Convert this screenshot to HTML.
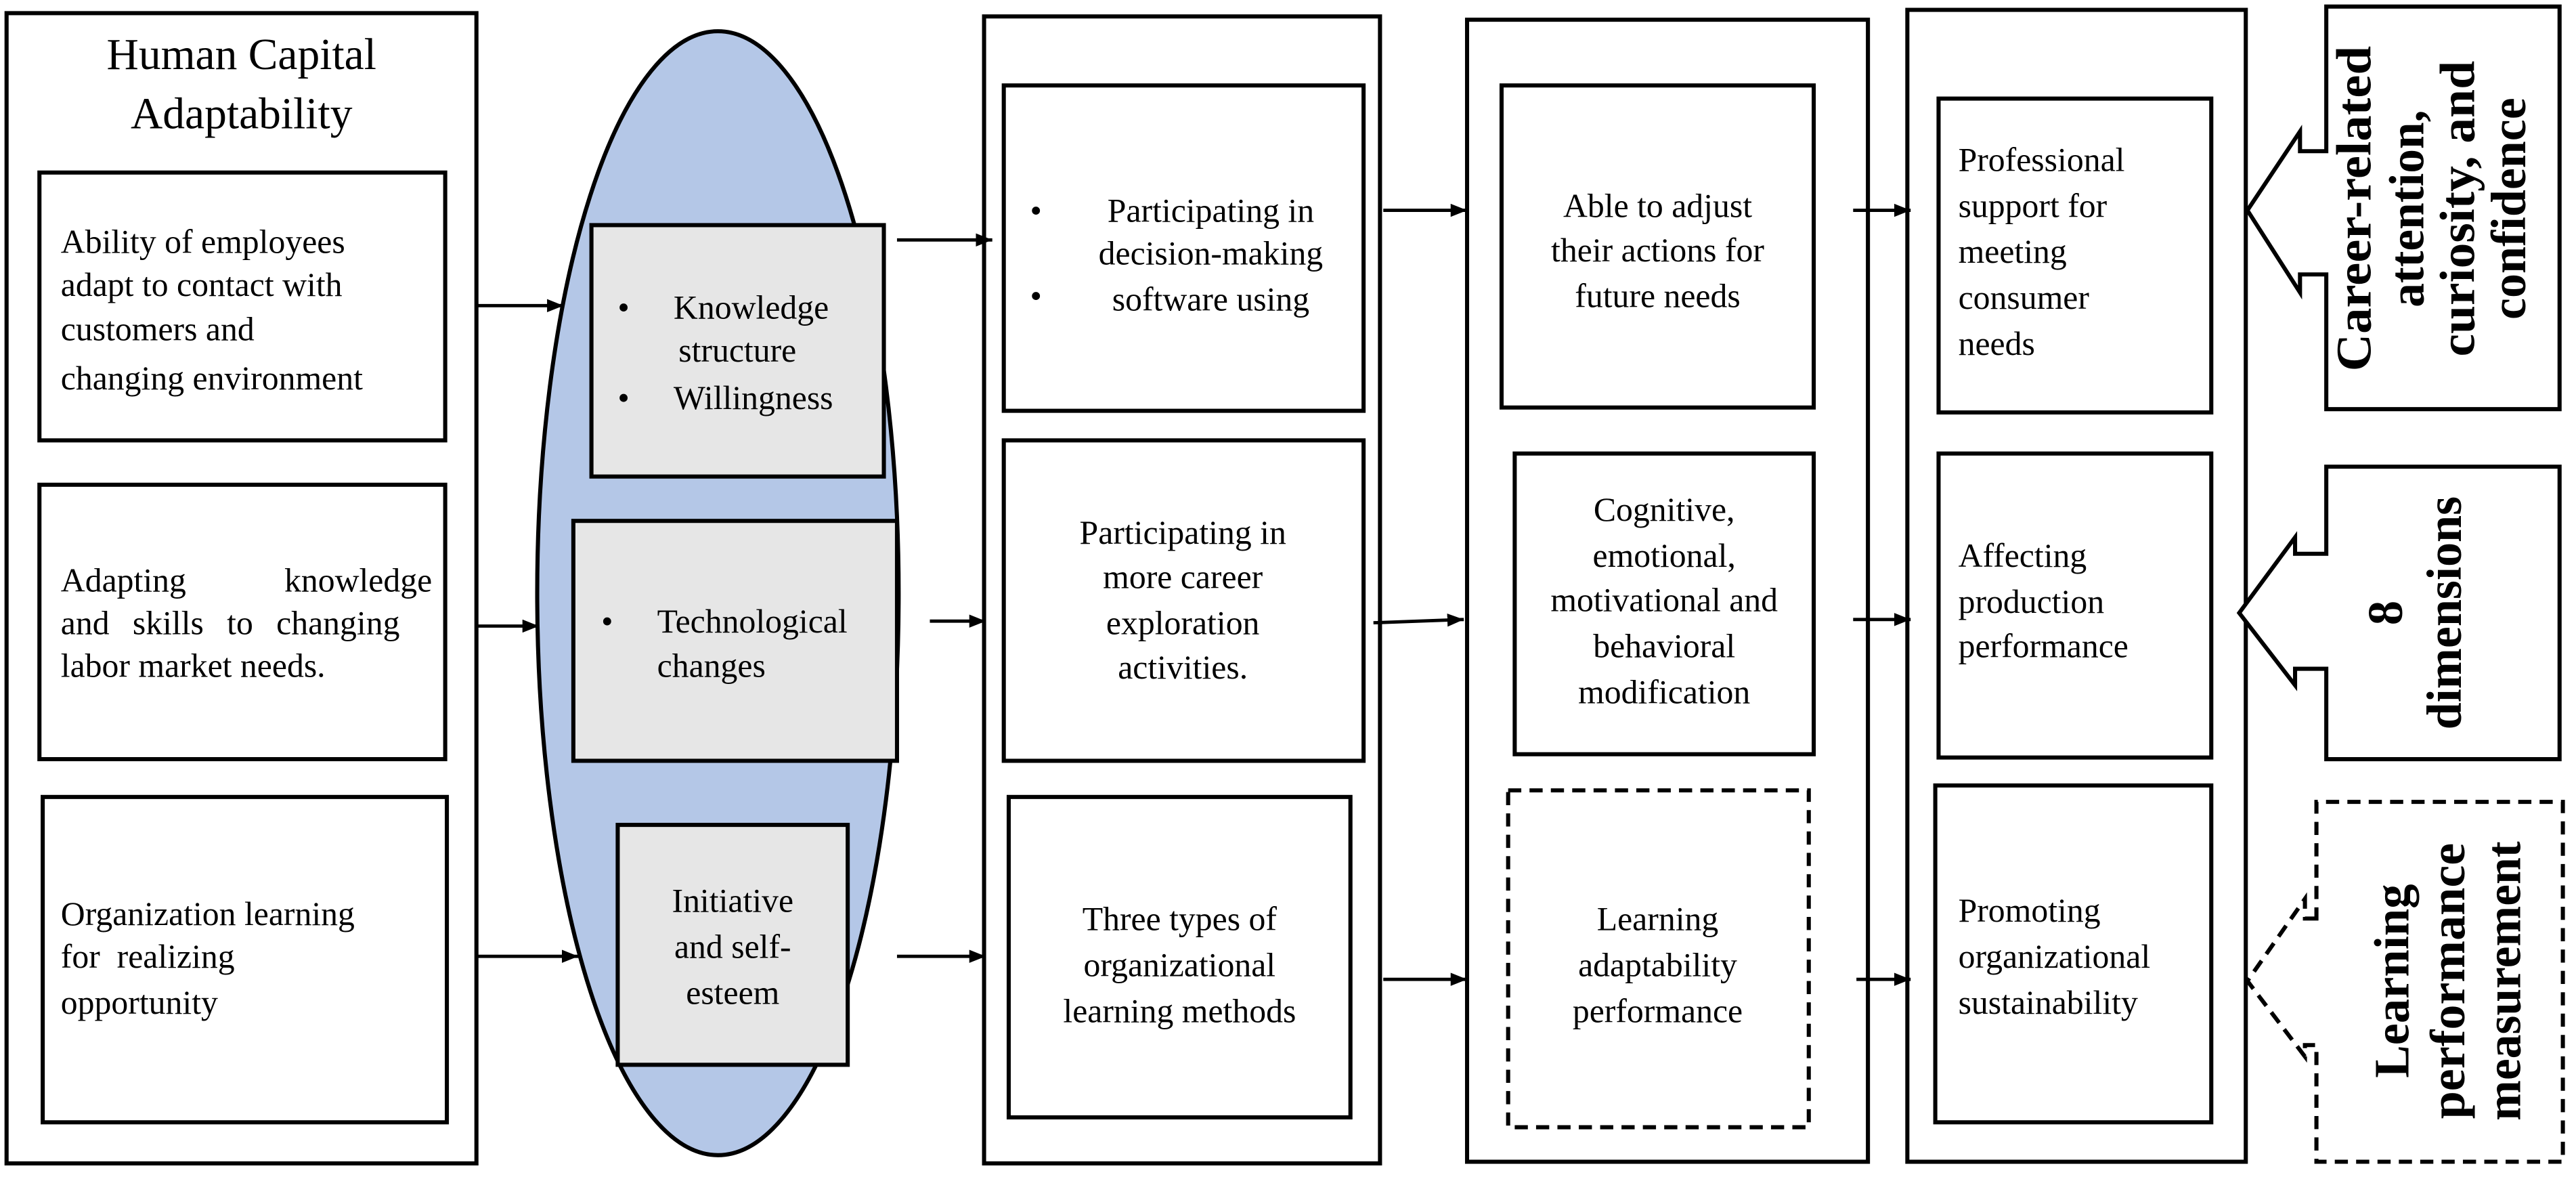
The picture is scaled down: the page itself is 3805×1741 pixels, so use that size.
<!DOCTYPE html>
<html><head><meta charset="utf-8"><style>html,body{margin:0;padding:0;background:#fff}svg{display:block}</style></head><body>
<svg width="3805" height="1741" viewBox="0 0 1568 717.5" preserveAspectRatio="none" xmlns="http://www.w3.org/2000/svg" font-family="'Liberation Serif', serif" font-size="20.5">
<defs><marker id="a" markerWidth="10" markerHeight="8" refX="10" refY="4" orient="auto" markerUnits="userSpaceOnUse"><path d="M0,0 L10,4 L0,8 Z" fill="#000"/></marker></defs>
<rect width="1568" height="717.5" fill="#fff"/>
<g fill="none" stroke="#000" stroke-width="2.5">
<rect x="4" y="8" width="286" height="700"/>
<rect x="24" y="105" width="247" height="163"/>
<rect x="24" y="295" width="247" height="167"/>
<rect x="26" y="485" width="246" height="198"/>
<ellipse cx="437" cy="361" rx="110" ry="342" fill="#b4c7e7"/>
<rect x="360" y="137" width="178" height="153" fill="#e6e6e6"/>
<rect x="349" y="317" width="197" height="146" fill="#e6e6e6"/>
<rect x="376" y="502" width="140" height="146" fill="#e6e6e6"/>
<rect x="599" y="10" width="241" height="698"/>
<rect x="611" y="52" width="219" height="198"/>
<rect x="611" y="268" width="219" height="195"/>
<rect x="614" y="485" width="208" height="195"/>
<rect x="893" y="12" width="244" height="695"/>
<rect x="914" y="52" width="190" height="196"/>
<rect x="922" y="276" width="182" height="183"/>
<rect x="918" y="481" width="183" height="205" stroke-dasharray="8,5"/>
<rect x="1161" y="6" width="206" height="701"/>
<rect x="1180" y="60" width="166" height="191"/>
<rect x="1180" y="276" width="166" height="185"/>
<rect x="1178" y="478" width="168" height="205"/>
<path d="M1416,92 H1400 V80 L1368,128 L1400,178 V167 H1416 V249 H1558 V4 H1416 Z" fill="#fff"/>
<path d="M1416,337 H1397 V327 L1363,373 L1397,417 V407 H1416 V462 H1558 V284 H1416 Z" fill="#fff"/>
<path d="M1410,559 H1403 V547 L1368,597 L1403,643 V636 H1410 V707 H1560 V488 H1410 Z" fill="#fff" stroke-dasharray="8,5"/>
</g>
<g stroke="#000" stroke-width="2" marker-end="url(#a)">
<line x1="290" y1="186" x2="343" y2="186"/>
<line x1="290" y1="381" x2="328" y2="381"/>
<line x1="290" y1="582" x2="352" y2="582"/>
<line x1="546" y1="146" x2="604" y2="146"/>
<line x1="566" y1="378" x2="600" y2="378"/>
<line x1="546" y1="582" x2="600" y2="582"/>
<line x1="842" y1="128" x2="893" y2="128"/>
<line x1="836" y1="379" x2="891" y2="377"/>
<line x1="842" y1="596" x2="893" y2="596"/>
<line x1="1128" y1="128" x2="1163" y2="128"/>
<line x1="1128" y1="377" x2="1163" y2="377"/>
<line x1="1130" y1="596" x2="1163" y2="596"/>
</g>
<g fill="#000">
<text x="147" y="42" font-size="27" text-anchor="middle">Human Capital</text>
<text x="147" y="78" font-size="27" text-anchor="middle">Adaptability</text>
<text x="37" y="154">Ability of employees</text>
<text x="37" y="180">adapt to contact with</text>
<text x="37" y="207">customers and</text>
<text x="37" y="237">changing environment</text>
<text x="37" y="360">Adapting</text>
<text x="263" y="360" text-anchor="end">knowledge</text>
<text x="37" y="386" word-spacing="9">and skills to changing</text>
<text x="37" y="412">labor market needs.</text>
<text x="37" y="563">Organization learning</text>
<text x="37" y="589" xml:space="preserve">for  realizing</text>
<text x="37" y="617">opportunity</text>
<text x="376" y="194">•</text><text x="410" y="194">Knowledge</text>
<text x="413" y="220">structure</text>
<text x="376" y="249">•</text><text x="410" y="249">Willingness</text>
<text x="366" y="385">•</text><text x="400" y="385">Technological</text>
<text x="400" y="412">changes</text>
<g text-anchor="middle">
<text x="446" y="555">Initiative</text>
<text x="446" y="583">and self-</text>
<text x="446" y="611">esteem</text>
<text x="737" y="135">Participating in</text>
<text x="737" y="161">decision-making</text>
<text x="737" y="189">software using</text>
<text x="720" y="331">Participating in</text>
<text x="720" y="358">more career</text>
<text x="720" y="386">exploration</text>
<text x="720" y="413">activities.</text>
<text x="718" y="566">Three types of</text>
<text x="718" y="594">organizational</text>
<text x="718" y="622">learning methods</text>
<text x="1009" y="132">Able to adjust</text>
<text x="1009" y="159">their actions for</text>
<text x="1009" y="187">future needs</text>
<text x="1013" y="317">Cognitive,</text>
<text x="1013" y="345">emotional,</text>
<text x="1013" y="372">motivational and</text>
<text x="1013" y="400">behavioral</text>
<text x="1013" y="428">modification</text>
<text x="1009" y="566">Learning</text>
<text x="1009" y="594">adaptability</text>
<text x="1009" y="622">performance</text>
</g>
<text x="627" y="135">•</text><text x="627" y="187">•</text>
<text x="1192" y="104">Professional</text>
<text x="1192" y="132">support for</text>
<text x="1192" y="160">meeting</text>
<text x="1192" y="188">consumer</text>
<text x="1192" y="216">needs</text>
<text x="1192" y="345">Affecting</text>
<text x="1192" y="373">production</text>
<text x="1192" y="400">performance</text>
<text x="1192" y="561">Promoting</text>
<text x="1192" y="589">organizational</text>
<text x="1192" y="617">sustainability</text>
<g font-weight="bold" font-size="30" text-anchor="middle">
<text transform="translate(1443,127) rotate(-90)" textLength="198" lengthAdjust="spacingAndGlyphs">Career-related</text>
<text transform="translate(1475,127) rotate(-90)" textLength="120" lengthAdjust="spacingAndGlyphs">attention,</text>
<text transform="translate(1506,127) rotate(-90)" textLength="180" lengthAdjust="spacingAndGlyphs">curiosity, and</text>
<text transform="translate(1537,127) rotate(-90)" textLength="135" lengthAdjust="spacingAndGlyphs">confidence</text>
<text transform="translate(1462,373) rotate(-90)">8</text>
<text transform="translate(1498,373) rotate(-90)" textLength="142" lengthAdjust="spacingAndGlyphs">dimensions</text>
<text transform="translate(1466,597) rotate(-90)" textLength="118" lengthAdjust="spacingAndGlyphs">Learning</text>
<text transform="translate(1500,597) rotate(-90)" textLength="168" lengthAdjust="spacingAndGlyphs">performance</text>
<text transform="translate(1534,597) rotate(-90)" textLength="170" lengthAdjust="spacingAndGlyphs">measurement</text>
</g>
</g>
</svg>
</body></html>
